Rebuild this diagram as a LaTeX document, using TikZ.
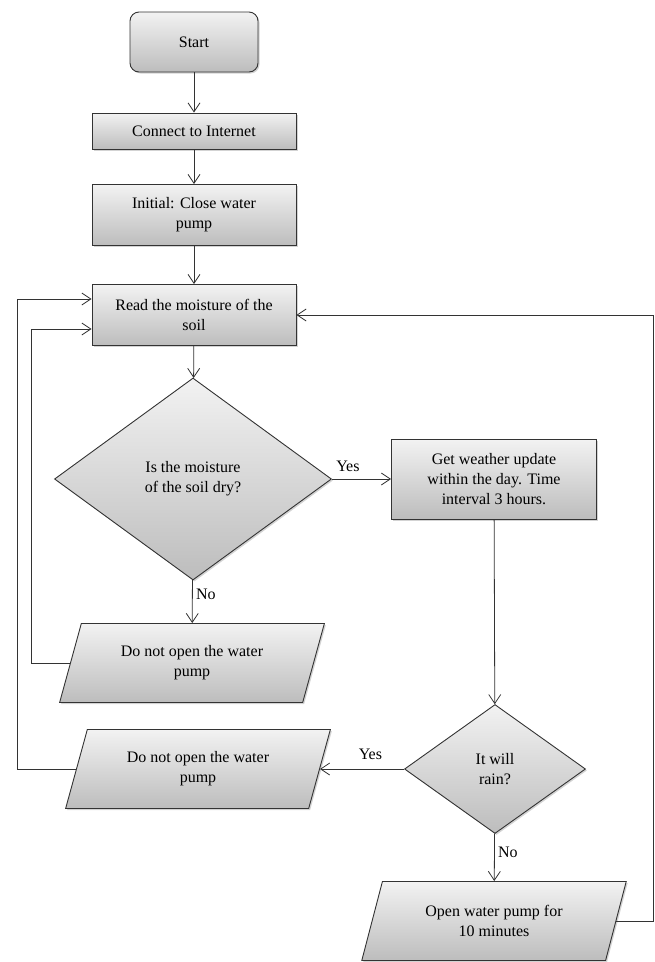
\documentclass[tikz,border=0pt]{standalone}
\usepackage{fontspec}
\setmainfont{Liberation Serif}
\usepackage{tikz}
\usetikzlibrary{shapes,arrows.meta,positioning,shadows}

\begin{document}
\begin{tikzpicture}[x=1pt,y=-1pt,>={Straight Barb[length=9pt,width=12pt]},
  every node/.style={font=\fontsize{16}{20}\selectfont},
  box/.style={rectangle,draw=black!80,line width=0.9pt,top color=black!5,bottom color=black!26,
    drop shadow={shadow xshift=1.5pt,shadow yshift=-1.5pt,opacity=0.35},align=center,inner sep=0pt},
  decision/.style={box,diamond},
  io/.style={box,trapezium,trapezium left angle=68,trapezium right angle=112,trapezium stretches=true,
    minimum width=265pt,minimum height=79pt},
  line/.style={draw=black!80,line width=0.8pt}]
  \useasboundingbox (0,0) rectangle (655,962);
  \node[box,rounded corners=9pt,minimum width=128pt,minimum height=60pt] (start) at (194,42) {Start};
  \node[box,minimum width=204pt,minimum height=36pt] (internet) at (194,131) {Connect to Internet};
  \node[box,minimum width=204pt,minimum height=61pt] (init) at (194,215) {Initial: Close water\\pump};
  \node[box,minimum width=204pt,minimum height=61pt] (read) at (194,315) {Read the moisture of the\\soil};
  \node[decision,minimum width=277pt,minimum height=202pt] (dry) at (193,479) {Is the moisture\\of the soil dry?};
  \node[box,minimum width=205pt,minimum height=80pt] (weather) at (494,479) {Get weather update\\within the day. Time\\interval 3 hours.};
  \node[io] (nopump) at (192,663) {Do not open the water\\pump};
  \node[decision,minimum width=181pt,minimum height=129pt] (rain) at (495,769) {It will\\rain?};
  \node[io] (nopumpb) at (198,769) {Do not open the water\\pump};
  \node[io] (pump) at (494,921) {Open water pump for\\10 minutes};
  \coordinate (outl) at (17,0);
  \coordinate (inl) at (31,0);
  \coordinate (outr) at (653,0);
  \draw[line,->] (start) -- (internet);
  \draw[line,->] (internet) -- (init);
  \draw[line,->] (init) -- (read);
  \draw[line,->] (read) -- (dry);
  \draw[line,->] (dry) -- node[above=4pt,pos=0.27] {Yes} (weather);
  \draw[line,->] (weather) -- (rain);
  \draw[line,->] (dry) -- node[right,pos=0.34] {No} (nopump);
  \draw[line,->] (nopump.left side) -- (nopump.left side -| inl) |- ([yshift=-14pt]read.west);
  \draw[line,->] (rain) -- node[above=6pt,pos=0.4] {Yes} (nopumpb.right side);
  \draw[line,->] (nopumpb.left side) -- (nopumpb.left side -| outl) |- ([yshift=16pt]read.west);
  \draw[line,->] (rain) -- node[right,pos=0.4] {No} (pump);
  \draw[line,->] (pump.right side) -- (pump.right side -| outr) |- (read.east);
\end{tikzpicture}
\end{document}
